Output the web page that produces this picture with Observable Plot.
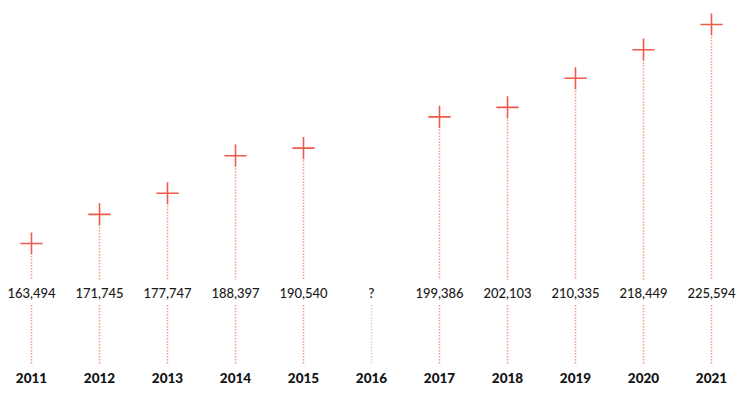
<!DOCTYPE html>
<html>
<head>
<meta charset="utf-8">
<script src="https://cdn.jsdelivr.net/npm/d3@7"></script>
<script src="https://cdn.jsdelivr.net/npm/@observablehq/plot@0.6"></script>
<style>
  html, body { margin: 0; padding: 0; background: #fff; }
  #chart svg { display: block; }
</style>
</head>
<body>
<div id="chart"></div>
<script>
const years = [2011, 2012, 2013, 2014, 2015, 2016, 2017, 2018, 2019, 2020, 2021];
const values = [163494, 171745, 177747, 188397, 190540, null, 199386, 202103, 210335, 218449, 225594];
const valueLabels = ["163,494", "171,745", "177,747", "188,397", "190,540", "?", "199,386", "202,103", "210,335", "218,449", "225,594"];

// y-scale extent and the level at which the row of value labels sits
const Y_MIN = 128620;
const Y_MAX = 229560;
const LABEL_ROW = 149300;

const data = years.map((year, i) => ({year, value: values[i], label: valueLabels[i]}));
const known = data.filter(d => d.value != null);
const missing = data.filter(d => d.value == null);

const red = "#f05a48";
const lineRed = "#f37d6e";
const grey = "#c8c8c8";

const dotted = {strokeDasharray: "1.5,1.5", strokeWidth: 1.5, strokeOpacity: 0.8};

const chart = Plot.plot({
  width: 740,
  height: 399,
  marginLeft: 29,
  marginRight: 27,
  marginTop: 10,
  marginBottom: 33,
  style: {fontFamily: "Lato, 'Open Sans', sans-serif", background: "#fff"},
  x: {type: "point", domain: years, padding: 0, round: true, axis: null},
  y: {domain: [Y_MIN, Y_MAX], axis: null},
  marks: [
    // lower dotted segments (below value labels)
    Plot.ruleX(known, {
      x: "year", y1: () => LABEL_ROW, y2: () => Y_MIN, insetTop: 12, insetBottom: 1,
      stroke: lineRed, ...dotted
    }),
    Plot.ruleX(missing, {
      x: "year", y1: () => LABEL_ROW, y2: () => Y_MIN, insetTop: 12, insetBottom: 1,
      stroke: grey, ...dotted
    }),
    // upper dotted segments (cross to label)
    Plot.ruleX(known, {
      x: "year", y1: "value", y2: () => LABEL_ROW, insetTop: 13, insetBottom: 13,
      stroke: lineRed, ...dotted
    }),
    // crosses
    Plot.dot(known, {
      x: "year", y: "value", symbol: "plus", r: 7.2,
      stroke: red, strokeWidth: 1.6
    }),
    // value labels
    Plot.text(data, {
      x: "year", y: () => LABEL_ROW, text: "label",
      fontSize: 13, fill: "#1a1a1a", fontWeight: 500
    }),
    // year axis
    Plot.axisX({
      tickSize: 0, tickPadding: 7, fontSize: 13.5, fontWeight: 900, label: null,
      tickFormat: d => String(d), color: "#111"
    })
  ]
});

document.getElementById("chart").appendChild(chart);
</script>
</body>
</html>
